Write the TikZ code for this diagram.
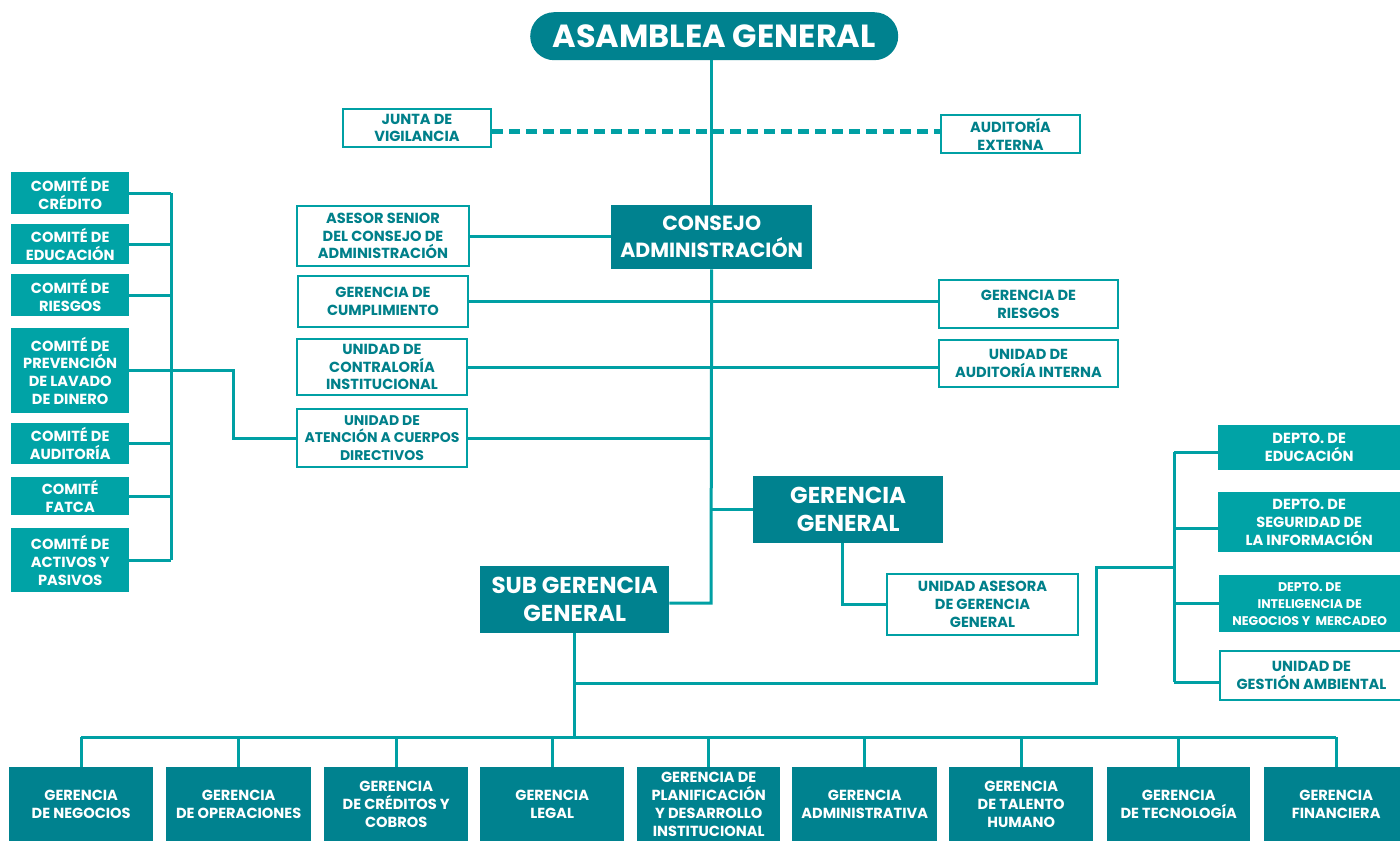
\documentclass[tikz,border=0pt]{standalone}
\usepackage{fontspec}
\setmainfont{Poppins}
\definecolor{tdark}{HTML}{00828F}
\definecolor{tlight}{HTML}{00A3A6}
\definecolor{tline}{HTML}{00A0A4}
\definecolor{ttext}{HTML}{00808A}
\newcommand{\myfs}[2]{\fontsize{#1}{#2}\selectfont}
\begin{document}
\begin{tikzpicture}[x=1pt,y=-1pt,
  box/.style={anchor=north west, inner sep=0pt, align=center, font=\bfseries\myfs{14.6}{17.8}},
  darkbox/.style={box, fill=tdark, text=white},
  lightbox/.style={box, fill=tlight, text=white},
  outbox/.style={box, fill=white, draw=tline, line width=2pt, text=ttext},
  conn/.style={draw=tline, line width=3pt},
  dconn/.style={draw=tline, line width=5pt, dash pattern=on 11pt off 6pt}]
\fill[white] (0,0) rectangle (1400,841);
\useasboundingbox (0,0) rectangle (1400,841);

% top
\node[darkbox, rounded corners=24pt, minimum width=368pt, minimum height=48pt, font=\bfseries\myfs{32}{36}] (asam) at (530,12) {ASAMBLEA GENERAL};
\node[outbox, minimum width=148pt, minimum height=38pt] (junta) at (342,108) {JUNTA DE\\VIGILANCIA};
\node[outbox, minimum width=139pt, minimum height=38pt] (audext) at (940,114) {AUDITORÍA\\EXTERNA};
\node[darkbox, minimum width=201pt, minimum height=64pt, font=\bfseries\myfs{20.5}{27}] (consejo) at (611,205) {CONSEJO\\ADMINISTRACIÓN};
\node[outbox, minimum width=172pt, minimum height=60pt] (asesor) at (296,205) {ASESOR SENIOR\\DEL CONSEJO DE\\ADMINISTRACIÓN};
\node[outbox, minimum width=170pt, minimum height=51pt] (cump) at (297,275) {GERENCIA DE\\CUMPLIMIENTO};
\node[outbox, minimum width=179pt, minimum height=48pt] (griesg) at (938,279) {GERENCIA DE\\RIESGOS};
\node[outbox, minimum width=170pt, minimum height=56pt] (contr) at (296,338) {UNIDAD DE\\CONTRALORÍA\\INSTITUCIONAL};
\node[outbox, minimum width=179pt, minimum height=47pt] (audint) at (938,339) {UNIDAD DE\\AUDITORÍA INTERNA};
\node[outbox, minimum width=170pt, minimum height=58pt, font=\bfseries\myfs{14}{17.8}] (atenc) at (296,408) {UNIDAD DE\\ATENCIÓN A CUERPOS\\DIRECTIVOS};
\node[darkbox, minimum width=190pt, minimum height=67pt, font=\bfseries\myfs{23}{28}] (gg) at (753,476) {GERENCIA\\GENERAL};
\node[darkbox, minimum width=189pt, minimum height=67pt, font=\bfseries\myfs{23}{28}] (subg) at (480,566) {SUB GERENCIA\\GENERAL};
\node[outbox, minimum width=191pt, minimum height=61pt] (uase) at (886,573) {UNIDAD ASESORA\\DE GERENCIA\\GENERAL};

% committees
\node[lightbox, minimum width=118pt, minimum height=42pt] (c1) at (11,172) {COMITÉ DE\\CRÉDITO};
\node[lightbox, minimum width=118pt, minimum height=40pt] (c2) at (11,224) {COMITÉ DE\\EDUCACIÓN};
\node[lightbox, minimum width=118pt, minimum height=42pt] (c3) at (11,274) {COMITÉ DE\\RIESGOS};
\node[lightbox, minimum width=118pt, minimum height=85pt] (c4) at (11,328) {COMITÉ DE\\PREVENCIÓN\\DE LAVADO\\DE DINERO};
\node[lightbox, minimum width=118pt, minimum height=41pt] (c5) at (11,423) {COMITÉ DE\\AUDITORÍA};
\node[lightbox, minimum width=118pt, minimum height=38pt] (c6) at (11,477) {COMITÉ\\FATCA};
\node[lightbox, minimum width=118pt, minimum height=64pt] (c7) at (11,528) {COMITÉ DE\\ACTIVOS Y\\PASIVOS};

% departments
\node[lightbox, minimum width=182pt, minimum height=45pt] (d1) at (1218,425) {DEPTO. DE\\EDUCACIÓN};
\node[lightbox, minimum width=182pt, minimum height=60pt] (d2) at (1218,492) {DEPTO. DE\\SEGURIDAD DE\\LA INFORMACIÓN};
\node[lightbox, minimum width=181pt, minimum height=57pt, font=\bfseries\myfs{12.6}{17}] (d3) at (1219,575) {DEPTO. DE\\INTELIGENCIA DE\\NEGOCIOS Y \ MERCADEO};
\node[outbox, minimum width=183pt, minimum height=49pt] (d4) at (1219,650) {UNIDAD DE\\GESTIÓN AMBIENTAL};

% bottom
\node[darkbox, minimum width=144pt, minimum height=74pt] (b1) at (9,767) {GERENCIA\\DE NEGOCIOS};
\node[darkbox, minimum width=145pt, minimum height=74pt] (b2) at (166,767) {GERENCIA\\DE OPERACIONES};
\node[darkbox, minimum width=144pt, minimum height=74pt] (b3) at (324,767) {GERENCIA\\DE CRÉDITOS Y\\COBROS};
\node[darkbox, minimum width=144pt, minimum height=74pt] (b4) at (480,767) {GERENCIA\\LEGAL};
\node[darkbox, minimum width=143pt, minimum height=74pt] (b5) at (637,767) {GERENCIA DE\\PLANIFICACIÓN\\Y DESARROLLO\\INSTITUCIONAL};
\node[darkbox, minimum width=145pt, minimum height=74pt] (b6) at (792,767) {GERENCIA\\ADMINISTRATIVA};
\node[darkbox, minimum width=144pt, minimum height=74pt] (b7) at (949,767) {GERENCIA\\DE TALENTO\\HUMANO};
\node[darkbox, minimum width=143pt, minimum height=74pt] (b8) at (1107,767) {GERENCIA\\DE TECNOLOGÍA};
\node[darkbox, minimum width=144pt, minimum height=74pt] (b9) at (1264,767) {GERENCIA\\FINANCIERA};

% connectors: main spine
\draw[conn] (consejo.north |- asam.south) -- (consejo.north);
\draw[dconn] ([yshift=-3pt]junta.east) -- ([yshift=-3pt]junta.east -| audext.west);
\draw[conn] (asesor.east) -- (asesor.east -| consejo.west);
\coordinate (jt) at (711,603);
\draw[conn] (consejo.south) -- (jt) -- (jt -| subg.east);
\draw[conn] (cump.east) -- (cump.east -| griesg.west);
\draw[conn] (contr.east) -- (contr.east -| audint.west);
\draw[conn] (atenc.east) -- (atenc.east -| consejo.south);
\draw[conn] (gg.west -| consejo.south) -- (gg.west);
\draw[conn] ([xshift=-6pt]gg.south) |- (uase.west);

% committees bus
\coordinate (cbus) at (171,0);
\draw[conn] (c1.east -| cbus) -- (c7.east -| cbus);
\foreach \n in {c1,c2,c3,c4,c5,c6,c7} \draw[conn] (\n.east) -- (\n.east -| cbus);
\coordinate (cturn) at (233,0);
\draw[conn] (c4.east -| cbus) -- (c4.east -| cturn) -- (atenc.west -| cturn) -- (atenc.west);

% departments bus
\coordinate (db1) at (1174,452);
\coordinate (db2) at (1174,528);
\coordinate (db3) at (1174,603);
\coordinate (db4) at (1174,682);
\coordinate (dmid) at (1174,567);
\coordinate (dturn) at (1096,567);
\draw[conn] (db1) -- (db4);
\draw[conn] (db1) -- (db1 -| d1.west);
\draw[conn] (db2) -- (db2 -| d2.west);
\draw[conn] (db3) -- (db3 -| d3.west);
\draw[conn] (db4) -- (db4 -| d4.west);
\coordinate (sgj) at (575,683);
\draw[conn] (dmid) -- (dturn) |- (sgj);

% bottom bus
\coordinate (bb) at (0,737);
\draw[conn] (subg.south) -- (subg.south |- bb);
\draw[conn] (b1.north |- bb) -- (b9.north |- bb);
\foreach \n in {b1,b2,b3,b4,b5,b6,b7,b8,b9} \draw[conn] (\n.north |- bb) -- (\n.north);
\end{tikzpicture}
\end{document}
